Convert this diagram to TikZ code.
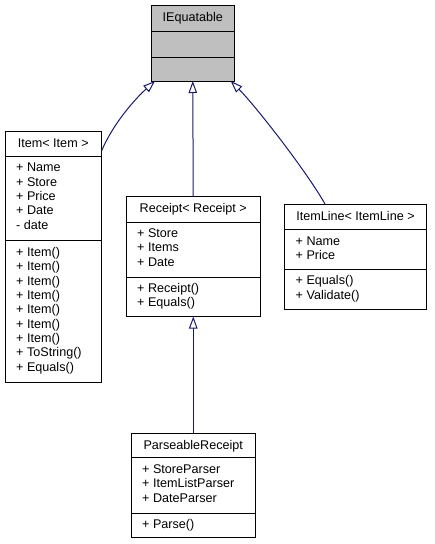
\documentclass[tikz,border=0pt]{standalone}
\usepackage{fontspec}
\setmainfont{Liberation Sans}
\usetikzlibrary{arrows.meta,calc}
\definecolor{edgec}{HTML}{191970}
\definecolor{boxgray}{HTML}{BFBFBF}
\newcommand{\clsfont}{\fontsize{12.6}{14.3}\selectfont}
\begin{document}
\begin{tikzpicture}[x=1pt,y=-1pt,
  cls/.style={draw=black, line width=1pt, fill=white, inner sep=0pt, outer sep=0pt, anchor=north west},
  ttl/.style={anchor=base, inner sep=0pt, font=\clsfont},
  mem/.style={anchor=base west, inner sep=0pt, font=\clsfont},
  inh/.style={draw=edgec, line width=1pt, -{Triangle[length=12pt, width=8.5pt, fill=white]}},
  sep/.style={draw=black, line width=1pt}]
\useasboundingbox (0,0) rectangle (435,544);

% IEquatable
\node[cls, fill=boxgray, minimum width=82.5pt, minimum height=75.5pt] (IE) at (151.5,5.5) {};
\draw[sep] (IE.west |- 0,31) -- (IE.east |- 0,31);
\draw[sep] (IE.west |- 0,57) -- (IE.east |- 0,57);
\node[ttl] (IE-t) at (192.75,21) {IEquatable};

% Item
\node[cls, minimum width=96.5pt, minimum height=251pt] (Item) at (5,131.5) {};
\draw[sep] (Item.west |- 0,156.5) -- (Item.east |- 0,156.5);
\draw[sep] (Item.west |- 0,240.7) -- (Item.east |- 0,240.7);
\node[ttl] (Item-t) at (53.25,147.5) {Item< Item >};
\foreach \t [count=\i] in {+ Name,+ Store,+ Price,+ Date,- date}
  \node[mem] (Item-a\i) at (16,{171.8+14.35*(\i-1)}) {\t};
\foreach \t [count=\i] in {+ Item(),+ Item(),+ Item(),+ Item(),+ Item(),+ Item(),+ Item(),+ ToString(),+ Equals()}
  \node[mem] (Item-m\i) at (16,{256.3+14.35*(\i-1)}) {\t};

% Receipt
\node[cls, minimum width=134.5pt, minimum height=120pt] (Rc) at (126,196.5) {};
\draw[sep] (Rc.west |- 0,222) -- (Rc.east |- 0,222);
\draw[sep] (Rc.west |- 0,277.5) -- (Rc.east |- 0,277.5);
\node[ttl] (Rc-t) at (193.25,212.5) {Receipt< Receipt >};
\foreach \t [count=\i] in {+ Store,+ Items,+ Date}
  \node[mem] (Rc-a\i) at (137,{237.6+14.35*(\i-1)}) {\t};
\foreach \t [count=\i] in {+ Receipt(),+ Equals()}
  \node[mem] (Rc-m\i) at (137,{292.6+14.35*(\i-1)}) {\t};

% ItemLine
\node[cls, minimum width=142pt, minimum height=105pt] (IL) at (284.5,204) {};
\draw[sep] (IL.west |- 0,229.3) -- (IL.east |- 0,229.3);
\draw[sep] (IL.west |- 0,269.5) -- (IL.east |- 0,269.5);
\node[ttl] (IL-t) at (355.5,220.5) {ItemLine< ItemLine >};
\foreach \t [count=\i] in {+ Name,+ Price}
  \node[mem] (IL-a\i) at (295.5,{245+14.35*(\i-1)}) {\t};
\foreach \t [count=\i] in {+ Equals(),+ Validate()}
  \node[mem] (IL-m\i) at (295.5,{284.8+14.35*(\i-1)}) {\t};

% ParseableReceipt
\node[cls, minimum width=124.5pt, minimum height=104.5pt] (PR) at (131,433.3) {};
\draw[sep] (PR.west |- 0,457.5) -- (PR.east |- 0,457.5);
\draw[sep] (PR.west |- 0,513) -- (PR.east |- 0,513);
\node[ttl] (PR-t) at (193.25,449.5) {ParseableReceipt};
\foreach \t [count=\i] in {+ StoreParser,+ ItemListParser,+ DateParser}
  \node[mem] (PR-a\i) at (142,{473.3+14.35*(\i-1)}) {\t};
\node[mem] (PR-m1) at (142,528.2) {+ Parse()};

% inheritance connectors
\coordinate (itemport) at ($(Item.north east)+(0,19.5)$);
\coordinate (ieleft) at ($(IE.south west)+(3.5,0)$);
\coordinate (ieright) at ($(IE.south east)+(-3.3,0)$);
\coordinate (ilport) at ($(IL.north west)+(40.5,0)$);
\draw[inh] (itemport) .. controls ($(itemport)+(12,-28)$) and ($(ieleft)+(-20,18)$) .. (ieleft);
\draw[inh] (Rc.north) -- (IE.south);
\draw[inh] (ilport) .. controls ($(ilport)+(-18,-32)$) and ($(ieright)+(25,25)$) .. (ieright);
\draw[inh] (PR.north) -- (Rc.south);
\end{tikzpicture}
\end{document}
